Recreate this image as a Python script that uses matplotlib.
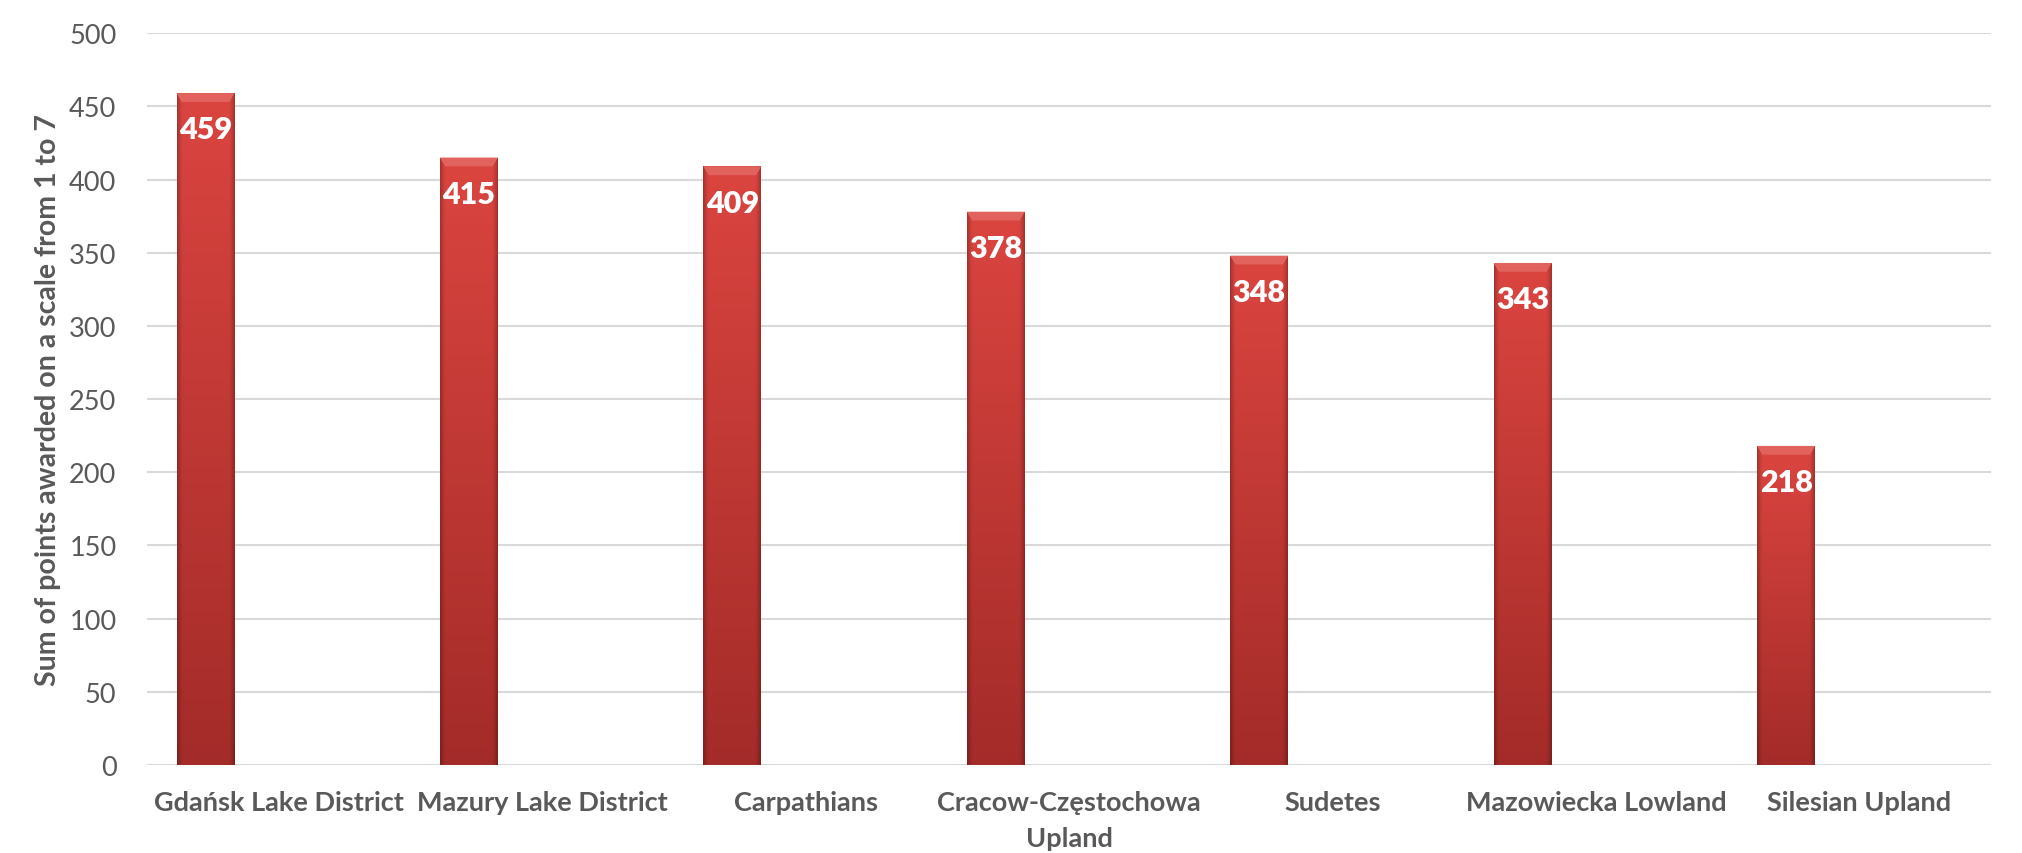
import numpy as np
import matplotlib
matplotlib.use("Agg")
import matplotlib.pyplot as plt
from matplotlib.patches import Polygon

# 데이터
regions = ["Gdańsk Lake District", "Mazury Lake District", "Carpathians",
           "Cracow-Częstochowa\nUpland", "Sudetes", "Mazowiecka Lowland",
           "Silesian Upland"]
points = [459, 415, 409, 378, 348, 343, 218]
y_ticks = [0, 50, 100, 150, 200, 250, 300, 350, 400, 450, 500]
y_label = "Sum of points awarded on a scale from 1 to 7"

plt.rcParams['font.family'] = ['Lato', 'DejaVu Sans']

fig = plt.figure(figsize=(20.22, 8.54), dpi=100)
ax = fig.add_axes([0.0727, 0.103, 0.912, 0.857])

x = np.arange(len(regions))
bar_w = 0.22
bar_off = -0.278
bars = ax.bar(x + bar_off, points, width=bar_w, color='#c93a36', zorder=3,
              edgecolor='none')

# 막대 그라데이션 (위는 밝게, 아래는 어둡게, 양 옆은 음영)
ny, nx = 200, 60
vert = np.linspace(0, 1, ny)[:, None]          # 0=top, 1=bottom
horiz = np.linspace(-1, 1, nx)[None, :]
top_c = np.array([0.86, 0.27, 0.25])
bot_c = np.array([0.64, 0.17, 0.16])
for b in bars:
    x0, w, h = b.get_x(), b.get_width(), b.get_height()
    base = top_c[None, None, :] * (1 - vert[..., None]) + bot_c[None, None, :] * vert[..., None]
    edge = 1 - 0.25 * np.clip((np.abs(horiz) - 0.8) / 0.2, 0, 1) ** 1.5
    img = base * edge[..., None]
    im = ax.imshow(img, extent=[x0, x0 + w, 0, h], aspect='auto',
                   zorder=3.5, interpolation='bilinear')
    im.set_clip_path(b)
    # 위쪽 경사면
    bev = 6.0
    inset = w * 0.09
    ax.add_patch(Polygon([[x0, h], [x0 + w, h], [x0 + w - inset, h - bev],
                          [x0 + inset, h - bev]], closed=True,
                         facecolor='#e2625d', edgecolor='none', zorder=4))
    ax.annotate(str(int(h)), (x0 + w / 2, h), xytext=(0, -16),
                textcoords='offset points', ha='center', va='top',
                color='white', fontsize=22, fontweight='heavy', zorder=5)

ax.set_xlim(-0.5, len(regions) - 0.5)
ax.set_ylim(0, 500)
ax.set_yticks(y_ticks)
ax.set_xticks(x)
ax.set_xticklabels(regions, fontsize=19.5, fontweight='bold', color='#595959',
                   linespacing=1.6)
ax.tick_params(axis='y', labelsize=19.5, labelcolor='#595959', length=0, pad=22)
ax.tick_params(axis='x', length=0, pad=18)
ax.yaxis.grid(True, color='#d9d9d9', linewidth=1.5, zorder=0)
ax.set_axisbelow(True)
for s in ax.spines.values():
    s.set_visible(False)
ax.set_ylabel(y_label, fontsize=20.5, fontweight='bold', color='#595959',
              labelpad=6)

fig.savefig("out.png", dpi=100, facecolor='white')
